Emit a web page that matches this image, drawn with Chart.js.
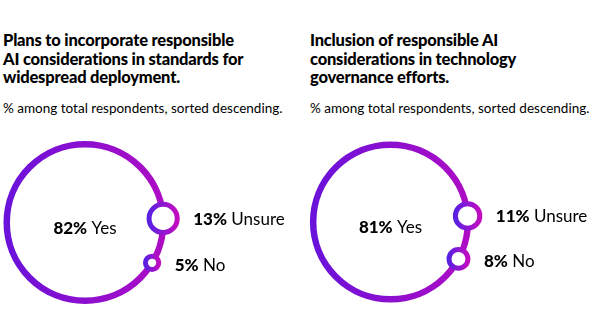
<!DOCTYPE html>
<html>
<head>
<meta charset="utf-8">
<script src="https://cdn.jsdelivr.net/npm/chart.js@4.4.1/dist/chart.umd.min.js"></script>
<style>
  html, body { margin: 0; padding: 0; background: #fff; }
  body { width: 600px; height: 336px; position: relative; overflow: hidden; font-family: Lato, "Open Sans", sans-serif; color: #000; }
  .panel { position: absolute; top: 0; width: 300px; height: 336px; }
  .title { position: absolute; top: 31px; font-weight: 900; font-size: 16.5px; line-height: 18.5px; letter-spacing: -0.2px; }
  .sub { position: absolute; top: 100px; font-size: 13.5px; line-height: 16px; white-space: nowrap; }
  .cv { position: absolute; left: 0; top: 120px; width: 300px; height: 216px; }
</style>
</head>
<body>
<div class="panel" style="left:0">
  <div class="title" id="t0" style="left:3px"></div>
  <div class="sub" id="s0" style="left:3px"></div>
  <div class="cv"><canvas id="c0" width="300" height="216"></canvas></div>
</div>
<div class="panel" style="left:300px">
  <div class="title" id="t1" style="left:10px"></div>
  <div class="sub" id="s1" style="left:10px"></div>
  <div class="cv"><canvas id="c1" width="300" height="216"></canvas></div>
</div>
<script>
// ---- data ----
const categories = ["Yes", "Unsure", "No"];
const plansValues = [82, 13, 5];
const inclusionValues = [81, 11, 8];
const titles = [
  ["Plans to incorporate responsible", "AI considerations in standards for", "widespread deployment."],
  ["Inclusion of responsible AI", "considerations in technology", "governance efforts."]
];
const subtitle = "% among total respondents, sorted descending.";

// ---- layout (not data) ----
const panels = [
  { values: plansValues, cx: 85, cy: 102.5, angles: [0, -3, 31] },
  { values: inclusionValues, cx: 90.5, cy: 102, angles: [0, -4.5, 28.5] }
];
function radiusFor(v) { return 0.93 * v + 2; }

titles.forEach((lines, i) => {
  document.getElementById('t' + i).innerHTML = lines.join('<br>');
  document.getElementById('s' + i).textContent = subtitle;
});

function bubbles(p) {
  const R = radiusFor(p.values[0]);
  return p.values.map((v, i) => {
    const r = radiusFor(v);
    if (i === 0) return { x: p.cx, y: p.cy, r: r, v: v, label: categories[i] };
    const a = p.angles[i] * Math.PI / 180;
    return { x: p.cx + R * Math.cos(a), y: p.cy + R * Math.sin(a), r: r, v: v, label: categories[i] };
  });
}

const labelPlugin = {
  id: 'labels',
  afterDatasetsDraw(chart) {
    const ctx = chart.ctx;
    const meta = chart.getDatasetMeta(0);
    const raw = chart.data.datasets[0].data;
    ctx.save();
    ctx.fillStyle = '#000';
    ctx.textBaseline = 'middle';
    meta.data.forEach((el, i) => {
      const d = raw[i];
      const bold = d.v + '%';
      const reg = ' ' + d.label;
      const fb = '900 17px Lato, "Open Sans", sans-serif';
      const fr = '400 17px Lato, "Open Sans", sans-serif';
      ctx.font = fb; const wb = ctx.measureText(bold).width;
      ctx.font = fr; const wr = ctx.measureText(reg).width;
      let x, y;
      if (i === 0) { x = el.x - (wb + wr) / 2; y = el.y + 6; }
      else { x = el.x + d.r + 2.5 + 13.5; y = el.y + (i === 2 ? 3 : 1); }
      ctx.textAlign = 'left';
      ctx.font = fb; ctx.fillText(bold, x, y);
      ctx.font = fr; ctx.fillText(reg, x + wb, y);
    });
    ctx.restore();
  }
};

function ringColor(c) {
  const ch = c.chart;
  const d = c.raw;
  const fallback = '#8a10d0';
  if (!ch || !ch.scales || !ch.scales.x || !d) return fallback;
  const px = ch.scales.x.getPixelForValue(d.x);
  if (!isFinite(px) || !isFinite(d.r)) return fallback;
  const g = ch.ctx.createLinearGradient(px - d.r, 0, px + d.r, 0);
  if (c.dataIndex === 0) {
    g.addColorStop(0, '#6a12da');
    g.addColorStop(1, '#ae0cc4');
  } else {
    g.addColorStop(0, '#5a20e2');
    g.addColorStop(1, '#c20cc0');
  }
  return g;
}

panels.forEach((p, k) => {
  const data = bubbles(p);
  new Chart(document.getElementById('c' + k), {
    type: 'bubble',
    data: {
      datasets: [{
        data: data,
        clip: false,
        backgroundColor: '#ffffff',
        borderWidth: (c) => c.dataIndex === 0 ? 6.5 : 5,
        borderColor: ringColor
      }]
    },
    options: {
      responsive: false,
      animation: false,
      events: [],
      layout: { padding: 0, autoPadding: false },
      plugins: { legend: { display: false }, tooltip: { enabled: false }, title: { display: false } },
      scales: {
        x: { type: 'linear', min: 0, max: 300, display: false },
        y: { type: 'linear', min: 0, max: 216, reverse: true, display: false }
      }
    },
    plugins: [labelPlugin]
  });
});
</script>
</body>
</html>
